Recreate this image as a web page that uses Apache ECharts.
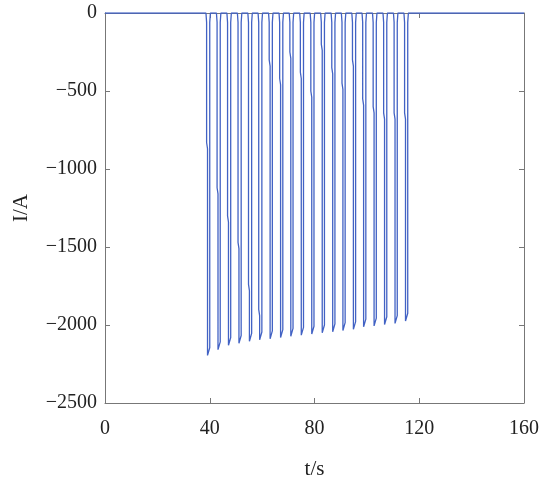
<!DOCTYPE html>
<html>
<head>
<meta charset="UTF-8">
<script type="text/javascript" src="https://cdn.jsdelivr.net/npm/echarts@6/dist/echarts.min.js"></script>
<title>I/A vs t/s</title>
</head>
<body style="margin:0;">
	<div id="main" style="width:550px;height:488px;"></div>
	<script type="text/javascript">
		// pulse train
		var pulseStart = [38.8,42.8,46.8,50.8,54.8,58.7,62.7,66.7,70.6,74.6,78.6,82.6,86.6,90.5,94.5,98.4,102.4,106.4,110.4,114.4];
		var pulseMin = [-2195,-2158,-2130,-2117,-2104,-2095,-2088,-2080,-2072,-2065,-2058,-2050,-2043,-2035,-2028,-2012,-2006,-1997,-1990,-1975];
		var pulseKink = [-830,-1120,-1300,-1470,-1740,-1900,-300,-420,-250,-380,-500,-200,-350,-450,-300,-550,-600,-640,-640,-640];
		var pulseWidth = 1.2;
		var tRange = [0, 160];
		var xTicks = [0, 40, 80, 120, 160];
		var yTicks = [-2500, -2000, -1500, -1000, -500, 0];

		var seriesData = [[tRange[0], 0]];
		for (var i = 0; i < pulseStart.length; i++) {
			var ts = pulseStart[i];
			seriesData.push([ts - 0.25, 0]);
			seriesData.push([ts, -60]);
			seriesData.push([ts, pulseKink[i]]);
			seriesData.push([ts + 0.35, pulseKink[i] - 40]);
			seriesData.push([ts + 0.35, pulseMin[i]]);
			seriesData.push([ts + pulseWidth, pulseMin[i] + 50]);
			seriesData.push([ts + pulseWidth, -60]);
			seriesData.push([ts + pulseWidth + 0.25, 0]);
		}
		seriesData.push([tRange[1], 0]);

		var font = 'Liberation Serif';
		var minus = function (v) { return String(v).replace('-', '\u2212'); };

		var myChart = echarts.init(document.getElementById("main"));
		var option = {
			animation: false,
			grid: { left: 105, right: 26, top: 13, bottom: 85 },
			xAxis: [
				{
					type: 'value', min: xTicks[0], max: xTicks[xTicks.length - 1], interval: 40,
					name: 't/s', nameLocation: 'middle', nameGap: 56,
					nameTextStyle: { fontFamily: font, fontSize: 21, color: '#222' },
					axisLine: { show: true, onZero: false, lineStyle: { color: '#777', width: 1 } },
					axisTick: { inside: true, length: 5, lineStyle: { color: '#777' } },
					axisLabel: { fontFamily: font, fontSize: 20, color: '#222', margin: 16 },
					splitLine: { show: false }
				},
				{
					type: 'value', min: xTicks[0], max: xTicks[xTicks.length - 1], interval: 40, position: 'top',
					axisLine: { show: true, onZero: false, lineStyle: { color: '#777', width: 1 } },
					axisTick: { inside: true, length: 5, lineStyle: { color: '#777' } },
					axisLabel: { show: false },
					splitLine: { show: false }
				}
			],
			yAxis: [
				{
					type: 'value', min: yTicks[0], max: yTicks[yTicks.length - 1], interval: 500,
					name: 'I/A', nameLocation: 'middle', nameGap: 73, nameRotate: 90,
					nameTextStyle: { fontFamily: font, fontSize: 21, color: '#222' },
					axisLine: { show: true, onZero: false, lineStyle: { color: '#777', width: 1 } },
					axisTick: { show: true, inside: true, length: 5, lineStyle: { color: '#777' } },
					axisLabel: { fontFamily: font, fontSize: 20, color: '#222', margin: 8, formatter: minus },
					splitLine: { show: false }
				},
				{
					type: 'value', min: yTicks[0], max: yTicks[yTicks.length - 1], interval: 500, position: 'right',
					axisLine: { show: true, onZero: false, lineStyle: { color: '#777', width: 1 } },
					axisTick: { show: true, inside: true, length: 5, lineStyle: { color: '#777' } },
					axisLabel: { show: false },
					splitLine: { show: false }
				}
			],
			series: [{
				type: 'line',
				data: seriesData,
				showSymbol: false,
				symbol: 'none',
				lineStyle: { color: '#4262c4', width: 1.3 },
				clip: true
			}]
		};
		myChart.setOption(option);
	</script>
</body>
</html>
